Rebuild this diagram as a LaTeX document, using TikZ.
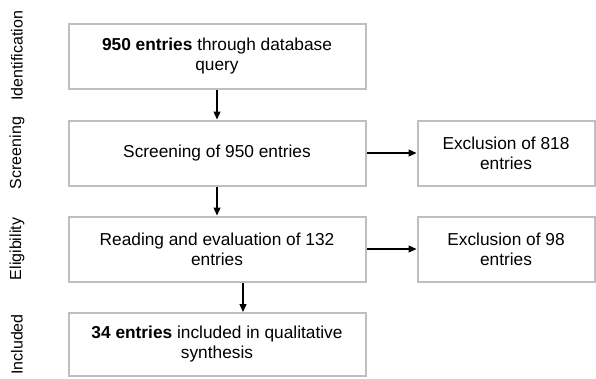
\documentclass[tikz,border=0pt]{standalone}
\usepackage{fontspec}
\setmainfont{Liberation Sans}
\usetikzlibrary{positioning,arrows.meta}

\begin{document}
\begin{tikzpicture}[x=1pt,y=1pt,node distance=96pt,on grid,
  every node/.style={font=\fontsize{17.3}{20}\selectfont},
  box/.style={draw=gray!50,line width=2pt,minimum height=65pt,align=center,inner sep=0pt},
  wide/.style={box,minimum width=297pt},
  narrow/.style={box,minimum width=177pt},
  phase/.style={rotate=90,font=\fontsize{16}{18}\selectfont},
  >={Triangle[length=8pt,width=7pt]}]
  \useasboundingbox (0,0) rectangle (596,-378);
  \node[wide] (ident) at (217,-56) {\textbf{950 entries} through database\\query};
  \node[wide] (screen) [below=97pt of ident] {Screening of 950 entries};
  \node[wide] (elig) [below=96pt of screen] {Reading and evaluation of 132\\entries};
  \node[wide,minimum height=63pt] (incl) [below=95.5pt of elig] {\textbf{34 entries} included in qualitative\\synthesis};
  \node[narrow] (excl1) [right=289pt of screen] {Exclusion of 818\\entries};
  \node[narrow] (excl2) [right=289pt of elig] {Exclusion of 98\\entries};
  % phase labels on the left
  \node[phase] (p_ident) [left=200pt of ident] {Identification};
  \node[phase] (p_screen) [left=200pt of screen] {Screening};
  \node[phase] (p_elig) [left=200pt of elig] {Eligibility};
  \node[phase] (p_incl) [left=200pt of incl] {Included};
  \path[->,line width=1.2pt]
  (ident) edge (screen)
  (screen) edge (elig)
  edge (excl1)
  (elig) edge (excl2)
  ([xshift=26pt]elig.south) edge ([xshift=26pt]incl.north);
\end{tikzpicture}
\end{document}
